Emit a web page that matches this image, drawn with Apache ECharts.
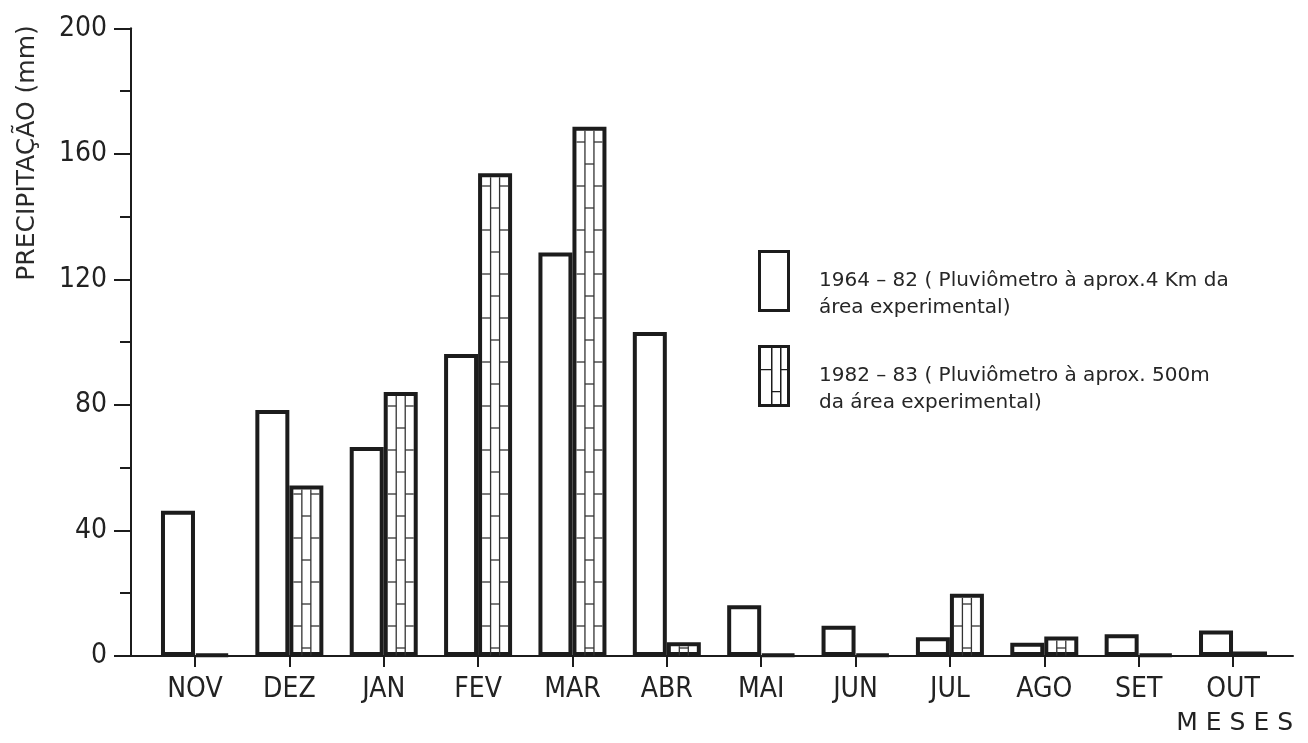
<!DOCTYPE html>
<html>
<head>
<meta charset="utf-8">
<script src="https://cdn.jsdelivr.net/npm/echarts@6/dist/echarts.min.js"></script>
<style>
html,body{margin:0;padding:0;background:#fff;}
#chart{width:1308px;height:743px;}
</style>
</head>
<body>
<div id="chart"></div>
<script>
// ---- data ----
var months = ['NOV','DEZ','JAN','FEV','MAR','ABR','MAI','JUN','JUL','AGO','SET','OUT'];
var p1964_82 = [46.3, 78.4, 66.6, 96.2, 128.6, 103.2, 16.2, 9.6, 6.0, 4.2, 6.9, 8.1];
var p1982_83 = [0.5, 54.3, 84.1, 153.8, 168.6, 4.4, 0.4, 0.4, 19.8, 6.2, 0.5, 1.4];
var yTicks = [0, 40, 80, 120, 160, 200];
var name1 = '1964 – 82 ( Pluviômetro à aprox.4 Km da\nárea experimental)';
var name2 = '1982 – 83 ( Pluviômetro à aprox. 500m\nda área experimental)';

var INK = '#1c1c1c';
var narrow = "'Liberation Sans Narrow','DejaVu Sans Condensed',sans-serif";
var BW = 34;
var BORDER = 4;

var framePath = 'path://M0,0 L32,0 L32,62 L0,62 Z M3,3 L3,59 L29,59 L29,3 Z';
var hatchPath = framePath +
  ' M13,3 L14.5,3 L14.5,59 L13,59 Z M22,3 L23.5,3 L23.5,59 L22,59 Z' +
  ' M3,24 L13,24 L13,25.3 L3,25.3 Z M23.5,24 L29,24 L29,25.3 L23.5,25.3 Z' +
  ' M14.5,46 L22,46 L22,47.3 L14.5,47.3 Z';

var chart = echarts.init(document.getElementById('chart'));

function hatchItem(params, api) {
  var i = api.value(0), v = api.value(1);
  var top = api.coord([i, v]);
  var base = api.coord([i, 0]);
  var cx = top[0];
  var innerTop = top[1] + BORDER;
  var innerBot = base[1] - 0.5;
  if (innerBot - innerTop < 2) return null;
  var st = {stroke: '#333', lineWidth: 1.3};
  var kids = [];
  [12.5, 21.5].forEach(function (dx) {
    kids.push({type: 'line', shape: {x1: cx + dx, y1: innerTop, x2: cx + dx, y2: innerBot}, style: st});
  });
  for (var k = 0; k < 40; k++) {
    var ym = base[1] - 8 - 44 * k;
    if (ym > innerTop + 1) {
      kids.push({type: 'line', shape: {x1: cx + 12.5, y1: ym, x2: cx + 21.5, y2: ym}, style: st});
    }
    var ys = base[1] - 30 - 44 * k;
    if (ys > innerTop + 1) {
      kids.push({type: 'line', shape: {x1: cx + BORDER, y1: ys, x2: cx + 12.5, y2: ys}, style: st});
      kids.push({type: 'line', shape: {x1: cx + 21.5, y1: ys, x2: cx + BW - BORDER, y2: ys}, style: st});
    }
  }
  return {type: 'group', children: kids};
}

var option = {
  backgroundColor: '#ffffff',
  animation: false,
  grid: [
    {left: 147.8, right: 27.8, top: 28.3, bottom: 87, containLabel: false},
    {left: 131, right: 15, top: 28.3, bottom: 87, containLabel: false}
  ],
  legend: {
    orient: 'vertical',
    left: 758,
    top: 240.5,
    padding: 0,
    itemGap: 14,
    itemWidth: 32,
    itemHeight: 62,
    selectedMode: false,
    itemStyle: {color: INK, borderWidth: 0},
    formatter: function (n) { return '\n' + n; },
    textStyle: {
      fontFamily: "'DejaVu Sans',sans-serif",
      fontSize: 20,
      color: '#262626',
      lineHeight: 27,
      padding: [0, 0, 0, 24]
    },
    data: [
      {name: name1, icon: framePath},
      {name: name2, icon: hatchPath}
    ]
  },
  xAxis: [
    {
      type: 'category',
      gridIndex: 0,
      data: months,
      boundaryGap: true,
      axisLine: {show: false},
      axisTick: {show: true, alignWithLabel: true, length: 11, lineStyle: {color: INK, width: 2}},
      axisLabel: {interval: 0, margin: 20, fontFamily: narrow, fontSize: 28, color: '#222'},
      splitLine: {show: false}
    },
    {
      type: 'value',
      gridIndex: 1,
      min: 0, max: 1,
      axisLine: {show: true, lineStyle: {color: INK, width: 2}},
      axisTick: {show: false},
      axisLabel: {show: false},
      splitLine: {show: false},
      name: 'M E S E S',
      nameLocation: 'end',
      nameGap: 0,
      nameTextStyle: {
        fontFamily: "'DejaVu Sans',sans-serif",
        fontSize: 25,
        color: '#222',
        align: 'right',
        verticalAlign: 'top',
        lineHeight: 25,
        padding: [55, 0, 0, 0]
      }
    }
  ],
  yAxis: [
    {
      type: 'value',
      gridIndex: 0,
      min: yTicks[0], max: yTicks[yTicks.length - 1], interval: 40,
      offset: 16.8,
      axisLine: {show: true, lineStyle: {color: INK, width: 2}},
      axisTick: {show: true, length: 17, lineStyle: {color: INK, width: 2}},
      minorTick: {show: true, splitNumber: 2, length: 11, lineStyle: {color: INK, width: 2}},
      axisLabel: {margin: 24, fontFamily: narrow, fontSize: 28, color: '#222'},
      splitLine: {show: false},
      minorSplitLine: {show: false}
    },
    {
      type: 'value',
      gridIndex: 1,
      min: 0, max: 200,
      show: false
    }
  ],
  graphic: [
    {
      type: 'text',
      x: 27, y: 153,
      rotation: Math.PI / 2,
      style: {
        text: 'PRECIPITAÇÃO (mm)',
        fontFamily: "'DejaVu Sans',sans-serif",
        fontSize: 25,
        fill: '#2a2a2a',
        align: 'center',
        verticalAlign: 'middle'
      }
    }
  ],
  series: [
    {
      name: name1,
      type: 'bar',
      xAxisIndex: 0, yAxisIndex: 0,
      barWidth: BW,
      barGap: '0%',
      data: p1964_82,
      itemStyle: {color: '#ffffff', borderColor: INK, borderWidth: BORDER},
      z: 2
    },
    {
      name: name2,
      type: 'bar',
      xAxisIndex: 0, yAxisIndex: 0,
      barWidth: BW,
      barGap: '0%',
      data: p1982_83,
      itemStyle: {color: '#ffffff', borderColor: INK, borderWidth: BORDER},
      z: 2
    },
    {
      name: 'hatch',
      type: 'custom',
      xAxisIndex: 0, yAxisIndex: 0,
      renderItem: hatchItem,
      encode: {x: 0, y: 1},
      data: p1982_83.map(function (v, i) { return [i, v]; }),
      z: 3,
      silent: true
    }
  ]
};
chart.setOption(option);
</script>
</body>
</html>
